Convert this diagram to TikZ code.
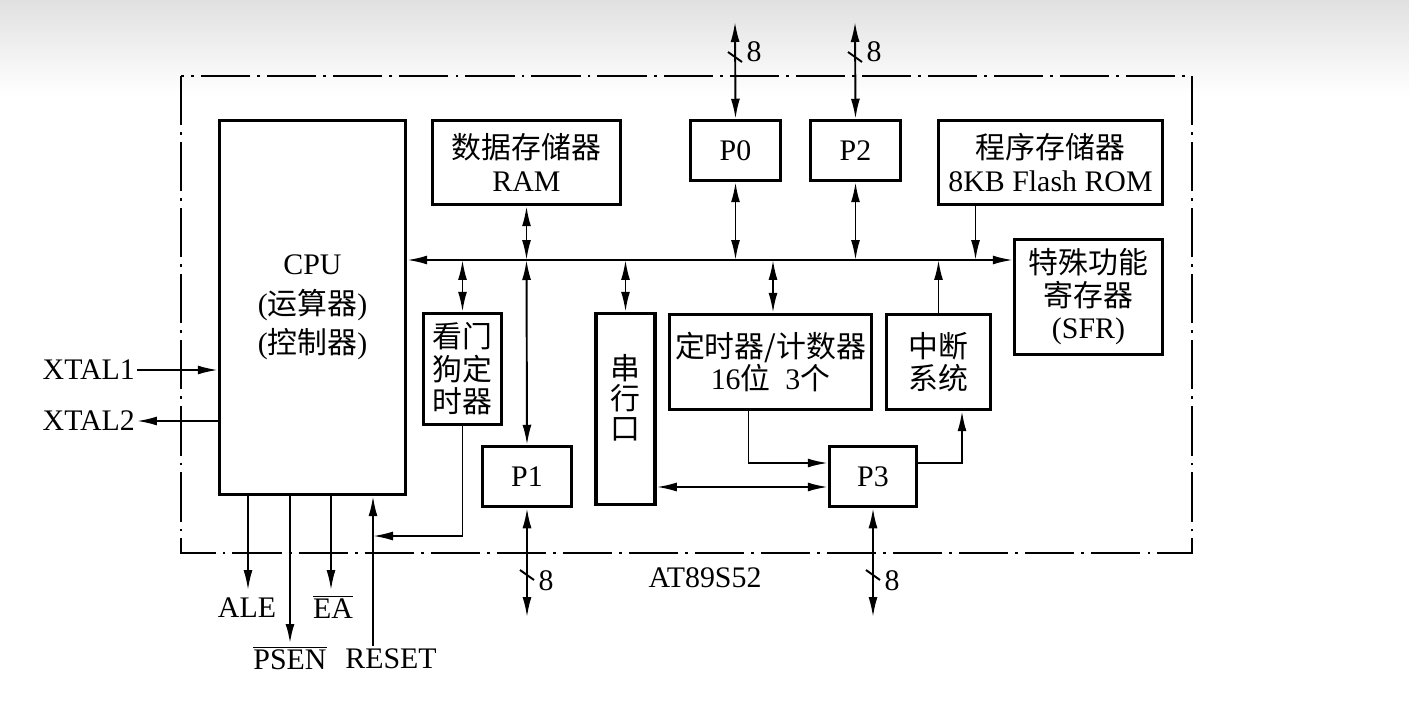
\documentclass[tikz,border=0pt]{standalone}
\usepackage{fontspec}
\setmainfont{Liberation Serif}
\newfontfamily\cjk{Noto Sans CJK SC}
\usetikzlibrary{arrows.meta,positioning,calc}

\begin{document}
\begin{tikzpicture}[
  x=0.02cm, y=-0.02cm,
  box/.style={draw, line width=2pt, align=center, inner sep=0pt, font=\fontsize{17pt}{18.5pt}\selectfont},
  lbl/.style={font=\fontsize{17pt}{18.5pt}\selectfont, inner sep=1pt},
  arrow/.style={-{Latex[length=0.4cm, width=0.18cm]}, line width=1.1pt},
  darrow/.style={{Latex[length=0.4cm, width=0.18cm]}-{Latex[length=0.4cm, width=0.18cm]}, line width=1.1pt},
  wire/.style={line width=1.1pt},
  chipframe/.style={line width=1.4pt, dash pattern=on 28pt off 4pt on 1.6pt off 4pt},
]

\useasboundingbox (0,0) rectangle (1409,706);
\shade[top color=black!12, bottom color=white] (0,0) rectangle (1409,95);

% Chip outline
\draw[chipframe] (181,76) rectangle (1192,553);
\node[lbl] (chip) at (705,578) {AT89S52};

% CPU, memories, ports
\node[box, minimum width=3.72cm, minimum height=7.48cm] (cpu) at (312.5,307.5) {CPU\\[4pt]({\cjk 运算器})\\[4pt]({\cjk 控制器})};
\node[box, minimum width=3.76cm, minimum height=1.68cm] (ram) at (526.5,162.5) {{\cjk 数据存储器}\\RAM};
\node[box, minimum width=1.8cm, minimum height=1.2cm] (p0) at (735.5,150.5) {P0};
\node[box, minimum width=1.8cm, minimum height=1.2cm] (p2) at (855.5,150.5) {P2};
\node[box, minimum width=4.48cm, minimum height=1.68cm] (rom) at (1050.5,162.5) {{\cjk 程序存储器}\\8KB Flash ROM};
\node[box, minimum width=2.96cm, minimum height=2.3cm] (sfr) at (1088.5,297) {{\cjk 特殊功能}\\{\cjk 寄存器}\\(SFR)};

% Peripherals under the bus
\node[box, minimum width=1.56cm, minimum height=2.22cm] (wdt) at (462.5,369) {{\cjk 看门}\\{\cjk 狗定}\\{\cjk 时器}};
\node[box, minimum width=1.18cm, minimum height=3.82cm] (uart) at (625.5,409) {};
\node[lbl, align=center, font=\cjk\fontsize{17pt}{17pt}\selectfont] (uarttxt) at ([yshift=0.22cm]uart.center) {串\\行\\口};
\node[box, minimum width=4.04cm, minimum height=1.9cm] (tmr) at (770.5,362) {{\cjk 定时器/计数器}\\16{\cjk 位}\ \ 3{\cjk 个}};
\node[box, minimum width=2.08cm, minimum height=1.9cm] (irq) at (938.5,362) {{\cjk 中断}\\{\cjk 系统}};
\node[box, minimum width=1.78cm, minimum height=1.2cm] (p1) at (527,476.5) {P1};
\node[box, minimum width=1.74cm, minimum height=1.2cm] (p3) at (873,476.5) {P3};

% Internal bus
\coordinate (bus) at (0,260);
\draw[darrow] (cpu.east |- bus) -- (sfr.west |- bus);
\draw[darrow] (ram.south) -- (ram.south |- bus);
\draw[darrow] (ram.south |- bus) -- (p1.north);
\draw[darrow] (p0.south) -- (p0.south |- bus);
\draw[darrow] (p2.south) -- (p2.south |- bus);
\draw[arrow] ([xshift=-1.5cm]rom.south) -- ([xshift=-1.5cm]rom.south |- bus);
\draw[darrow] (wdt.north |- bus) -- (wdt.north);
\draw[darrow] (uart.north |- bus) -- (uart.north);
\draw[darrow] ([xshift=0.05cm]tmr.north |- bus) -- ([xshift=0.05cm]tmr.north);
\draw[arrow] (irq.north) -- (irq.north |- bus);

% Timer, serial port and interrupts via P3
\draw[arrow] ([xshift=-0.44cm]tmr.south) |- ([yshift=0.27cm]p3.west);
\draw[darrow] ([yshift=-0.21cm]uart.east |- p3.west) -- ([yshift=-0.21cm]p3.west);
\draw[arrow] ([yshift=0.27cm]p3.east) -| ([xshift=0.47cm]irq.south);

% External port lines (8 bit)
\coordinate (p0x) at (735,22);
\coordinate (p2x) at (855,22);
\coordinate (p1x) at (527,617);
\coordinate (p3x) at (873,617);
\draw[darrow] (p0x) -- (p0.north);
\draw[darrow] (p2x) -- (p2.north);
\draw[darrow] (p1.south) -- (p1x);
\draw[darrow] (p3.south) -- (p3x);
\foreach \pt/\yy/\ly in {p0x/57/52, p2x/57/52, p1x/575/581, p3x/575/581} {
  \draw[wire] ($(\pt |- 0,\yy)+(-7,-5)$) -- ($(\pt |- 0,\yy)+(7,5)$);
  \node[lbl] at ($(\pt |- 0,\ly)+(19,0)$) {8};
}

% Clock pins
\node[lbl, anchor=east] (xt1) at (137,370) {XTAL1};
\node[lbl, anchor=east] (xt2) at (137,421) {XTAL2};
\draw[arrow] (xt1.east) -- (cpu.west |- xt1.east);
\draw[arrow] (cpu.west |- xt2.east) -- (xt2.east);

% Control pins
\node[lbl, anchor=north] (ale) at (247,596) {ALE};
\node[lbl, anchor=north] (psen) at (290,644) {$\overline{\hbox{PSEN}}$};
\node[lbl, anchor=north] (ea) at (333,593) {$\overline{\hbox{EA}}$};
\node[lbl, anchor=north] (rst) at (391,647) {RESET};
\coordinate (rstpin) at (373,646);
\coordinate (wdtin) at (373,536);
\draw[arrow] (cpu.south -| 248,0) -- (248,590);
\draw[arrow, line width=1.5pt] (cpu.south -| psen.north) -- (psen.north);
\draw[arrow] (cpu.south -| 331,0) -- (331,590);
\draw[arrow] (rstpin) -- (cpu.south -| rstpin);
\draw[arrow] (wdt.south) |- (wdtin);

\end{tikzpicture}
\end{document}
